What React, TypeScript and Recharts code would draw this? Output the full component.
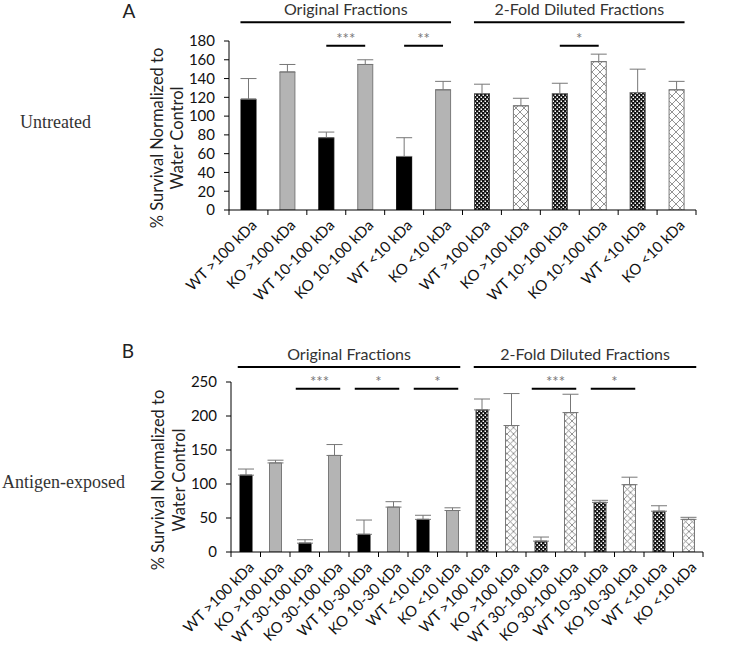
import React from 'react';
import { BarChart, Bar, Cell, XAxis, YAxis, ErrorBar, ReferenceLine } from 'recharts';

// panel A - untreated
const catsA = [
    'WT >100 kDa', 'KO >100 kDa', 'WT 10-100 kDa', 'KO 10-100 kDa', 'WT <10 kDa', 'KO <10 kDa',
    'WT >100 kDa', 'KO >100 kDa', 'WT 10-100 kDa', 'KO 10-100 kDa', 'WT <10 kDa', 'KO <10 kDa',
];
const survivalA = [118, 147, 77, 155, 57, 128, 124, 111, 124, 158, 125, 128];
const errA = [22, 8, 6, 5, 20, 9, 10, 8, 11, 8, 25, 9];
const ticksA = [0, 20, 40, 60, 80, 100, 120, 140, 160, 180];
const sigA = [
    { from: 2, to: 3, mark: '***' },
    { from: 4, to: 5, mark: '**' },
    { from: 8, to: 9, mark: '*' },
];

// panel B - antigen-exposed
const catsB = [
    'WT >100 kDa', 'KO >100 kDa', 'WT 30-100 kDa', 'KO 30-100 kDa', 'WT 10-30 kDa', 'KO 10-30 kDa', 'WT <10 kDa', 'KO <10 kDa',
    'WT >100 kDa', 'KO >100 kDa', 'WT 30-100 kDa', 'KO 30-100 kDa', 'WT 10-30 kDa', 'KO 10-30 kDa', 'WT <10 kDa', 'KO <10 kDa',
];
const survivalB = [113, 131, 13, 142, 26, 66, 48, 61, 209, 186, 16, 205, 73, 99, 60, 48];
const errB = [9, 4, 5, 16, 21, 8, 6, 4, 16, 47, 6, 27, 3, 11, 8, 3];
const ticksB = [0, 50, 100, 150, 200, 250];
const sigB = [
    { from: 2, to: 3, mark: '***' },
    { from: 4, to: 5, mark: '*' },
    { from: 6, to: 7, mark: '*' },
    { from: 10, to: 11, mark: '***' },
    { from: 12, to: 13, mark: '*' },
];

const groupNames = ['Original Fractions', '2-Fold Diluted Fractions'];

const FONT = 'Lato, "Open Sans", sans-serif';

type PanelProps = {
    prefix: string;
    cats: string[];
    values: number[];
    errs: number[];
    ticks: number[];
    sig: { from: number; to: number; mark: string }[];
    height: number;
    top: number;
    axisLeft: number;
    axisRight: number;
    xAxisHeight: number;
    barSize: number;
    hatch: number;
    sigY: number;
    groupY: number;
    sigExt: [number, number];
};

const Panel = (p: PanelProps) => {
    const n = p.cats.length;
    const half = n / 2;
    const band = (p.axisRight - p.axisLeft) / n;
    const data = p.cats.map((name, i) => ({ id: `${p.prefix}${i}`, name, value: p.values[i], err: [0, p.errs[i]] }));
    const max = p.ticks[p.ticks.length - 1];

    const style = (i: number) => {
        const wt = i % 2 === 0;
        if (i < half) return wt ? { fill: '#000', stroke: '#000' } : { fill: '#b4b4b4', stroke: '#7a7a7a' };
        return wt ? { fill: `url(#${p.prefix}dots)`, stroke: '#444' } : { fill: `url(#${p.prefix}hatch)`, stroke: '#7a7a7a' };
    };

    // eslint-disable-next-line @typescript-eslint/no-explicit-any
    const XTick = (t: any) => {
        const { x, y, index } = t;
        return (
            <g>
                <line x1={x - band / 2} y1={y} x2={x - band / 2} y2={y + 5} stroke="#000" />
                {index === n - 1 && <line x1={x + band / 2} y1={y} x2={x + band / 2} y2={y + 5} stroke="#000" />}
                <text
                    transform={`translate(${x + 5},${y + 12}) rotate(-45)`}
                    textAnchor="end"
                    dominantBaseline="central"
                    fontSize={15}
                    fontFamily={FONT}
                    fill="#111"
                >
                    {p.cats[index]}
                </text>
            </g>
        );
    };

    const extLine = (l: number, r: number) =>
        // eslint-disable-next-line @typescript-eslint/no-explicit-any
        (s: any) => <line x1={s.x1 - l} y1={s.y1} x2={s.x2 + r} y2={s.y2} stroke="#000" strokeWidth={2} />;

    return (
        <BarChart
            width={742}
            height={p.height}
            data={data}
            margin={{ top: p.top, right: 742 - p.axisRight, left: 0, bottom: 0 }}
            barCategoryGap={0}
        >
            <defs>
                <pattern id={`${p.prefix}dots`} width={4} height={4} patternUnits="userSpaceOnUse">
                    <rect width={4} height={4} fill="#111" />
                    <rect x={0.5} y={0.5} width={1.5} height={1.5} fill="#fff" />
                    <rect x={2.5} y={2.5} width={1.5} height={1.5} fill="#fff" />
                </pattern>
                <pattern id={`${p.prefix}hatch`} width={p.hatch} height={p.hatch} patternUnits="userSpaceOnUse">
                    <rect width={p.hatch} height={p.hatch} fill="#fff" />
                    <path d={`M0,0 L${p.hatch},${p.hatch} M${p.hatch},0 L0,${p.hatch}`} stroke="#777" strokeWidth={0.8} />
                </pattern>
            </defs>
            <XAxis
                dataKey="id"
                interval={0}
                height={p.xAxisHeight}
                tickSize={0}
                tickMargin={0}
                tickLine={false}
                axisLine={{ stroke: '#000' }}
                tick={XTick}
            />
            <YAxis
                width={p.axisLeft}
                domain={[0, max]}
                ticks={p.ticks}
                interval={0}
                allowDataOverflow
                tickSize={5}
                tickMargin={9}
                axisLine={{ stroke: '#000' }}
                tickLine={{ stroke: '#000' }}
                tick={{ fontSize: 15, fill: '#111', fontFamily: FONT }}
            />
            <Bar dataKey="value" barSize={p.barSize} isAnimationActive={false}>
                {data.map((d, i) => (
                    <Cell key={d.id} {...style(i)} strokeWidth={1} />
                ))}
                <ErrorBar dataKey="err" width={8} stroke="#777" strokeWidth={1} direction="y" />
            </Bar>
            {groupNames.map((g, k) => (
                <ReferenceLine
                    key={g}
                    ifOverflow="visible"
                    segment={[{ x: `${p.prefix}${k * half}`, y: p.groupY }, { x: `${p.prefix}${k * half + half - 1}`, y: p.groupY }]}
                    shape={extLine(8, 8)}
                    label={{ value: g, position: 'top', offset: 7, fontSize: 16, fill: '#333', fontFamily: FONT }}
                />
            ))}
            {p.sig.map((s) => (
                <ReferenceLine
                    key={`${s.from}-${s.to}`}
                    ifOverflow="visible"
                    segment={[{ x: `${p.prefix}${s.from}`, y: p.sigY }, { x: `${p.prefix}${s.to}`, y: p.sigY }]}
                    shape={extLine(p.sigExt[0], p.sigExt[1])}
                    label={{ value: s.mark, position: 'top', offset: 2, fontSize: 15, fill: '#777', fontFamily: FONT }}
                />
            ))}
        </BarChart>
    );
};

const YTitle = ({ cx1, cx2, cy }: { cx1: number; cx2: number; cy: number }) => (
    <g fontFamily={FONT} fontSize={16.5} fill="#222" textAnchor="middle" dominantBaseline="central">
        <text transform={`translate(${cx1},${cy}) rotate(-90)`}>% Survival Normalized to</text>
        <text transform={`translate(${cx2},${cy}) rotate(-90)`}>Water Control</text>
    </g>
);

export default function App() {
    return (
        <div style={{ position: 'absolute', left: 0, top: 0, width: 742, height: 655, background: '#fff' }}>
            <div style={{ position: 'absolute', left: 0, top: 0 }}>
                <Panel
                    prefix="a"
                    cats={catsA}
                    values={survivalA}
                    errs={errA}
                    ticks={ticksA}
                    sig={sigA}
                    height={325}
                    top={41}
                    axisLeft={229}
                    axisRight={696}
                    xAxisHeight={115}
                    barSize={15}
                    hatch={8}
                    sigY={175}
                    groupY={200}
                    sigExt={[0, 0]}
                />
            </div>
            <div style={{ position: 'absolute', left: 0, top: 330 }}>
                <Panel
                    prefix="b"
                    cats={catsB}
                    values={survivalB}
                    errs={errB}
                    ticks={ticksB}
                    sig={sigB}
                    height={325}
                    top={52}
                    axisLeft={231}
                    axisRight={703}
                    xAxisHeight={103}
                    barSize={12}
                    hatch={6.5}
                    sigY={240}
                    groupY={272}
                    sigExt={[9, 6]}
                />
            </div>
            <svg width={742} height={655} style={{ position: 'absolute', left: 0, top: 0, pointerEvents: 'none' }}>
                <text x={129} y={10} textAnchor="middle" dominantBaseline="central" fontSize={19} fontFamily={FONT} fill="#222">A</text>
                <text x={128} y={350} textAnchor="middle" dominantBaseline="central" fontSize={19} fontFamily={FONT} fill="#222">B</text>
                <text x={20} y={122} dominantBaseline="central" fontSize={18} fontFamily='"Liberation Serif", serif' fill="#333">Untreated</text>
                <text x={2} y={482} dominantBaseline="central" fontSize={18} fontFamily='"Liberation Serif", serif' fill="#333">Antigen-exposed</text>
                <YTitle cx1={157} cx2={177} cy={138} />
                <YTitle cx1={158} cx2={179} cy={480} />
            </svg>
        </div>
    );
}
